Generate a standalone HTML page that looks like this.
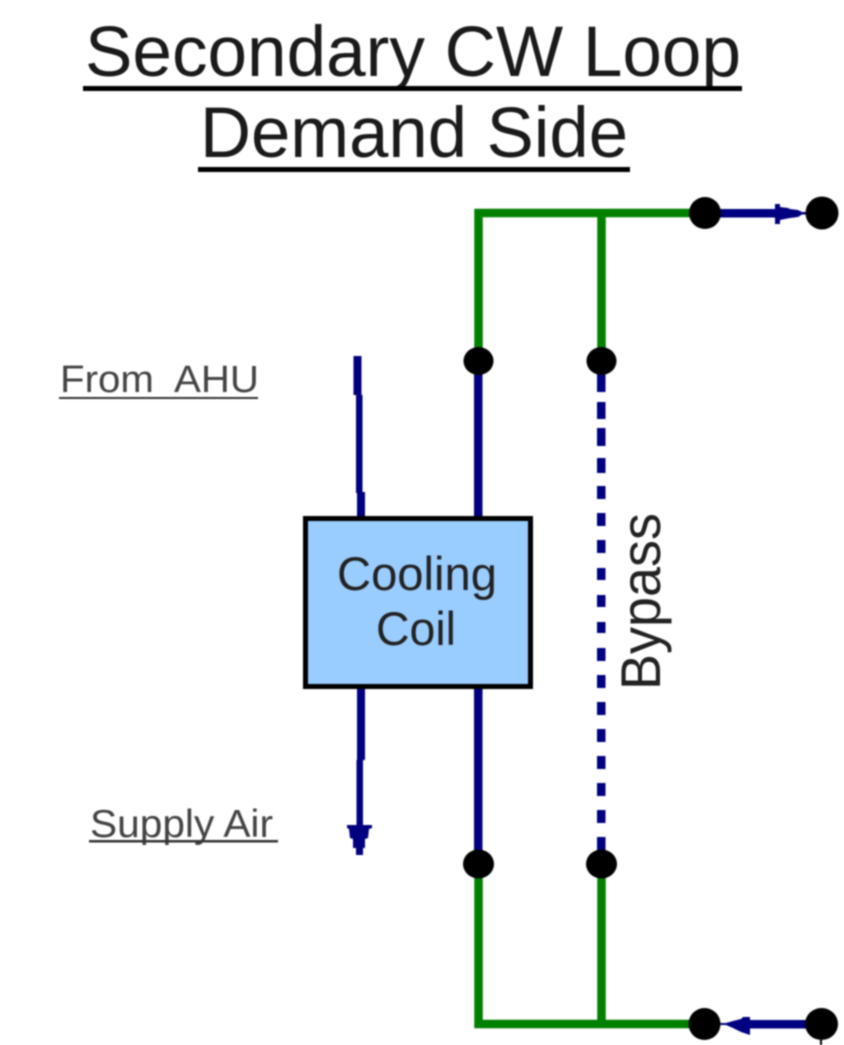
<!DOCTYPE html>
<html>
<head>
<meta charset="utf-8">
<style>
html,body{margin:0;padding:0;background:#fff;width:844px;height:1045px;overflow:hidden}
svg{display:block;filter:blur(.8px)}
text{font-family:"Liberation Sans",sans-serif}
</style>
</head>
<body>
<svg width="844" height="1045" viewBox="0 0 844 1045" xmlns="http://www.w3.org/2000/svg">
<!-- Title -->
<text x="85" y="76" font-size="71" fill="#1a1a1a" textLength="656" lengthAdjust="spacingAndGlyphs">Secondary CW Loop</text>
<rect x="83" y="86" width="659" height="5" fill="#000"/>
<text x="200" y="157" font-size="71" fill="#1a1a1a" textLength="428" lengthAdjust="spacingAndGlyphs">Demand Side</text>
<rect x="198" y="167" width="432" height="5" fill="#000"/>

<!-- Labels -->
<text x="60" y="392" font-size="38" fill="#444" textLength="199" lengthAdjust="spacingAndGlyphs">From&#160; AHU</text>
<rect x="59" y="397" width="199" height="2" fill="#333"/>
<text x="90" y="837" font-size="39" fill="#444" textLength="183" lengthAdjust="spacingAndGlyphs">Supply Air</text>
<rect x="89" y="840" width="189" height="2.5" fill="#333"/>

<!-- Green pipes -->
<path d="M478.5 361V213H705M601.5 213V361M478.5 864V1024H705M601.5 864V1024" fill="none" stroke="#008000" stroke-width="8.5"/>

<!-- Blue pipes -->
<g fill="#000080">
  <rect x="474" y="361" width="8.5" height="160"/>
  <rect x="474" y="685" width="8.5" height="180"/>
  <!-- Bypass -->
  <rect x="597" y="361" width="8.5" height="31"/>
  <rect x="597" y="402" width="8.5" height="17"/>
  <rect x="597" y="428" width="8.5" height="18"/>
  <rect x="597" y="458" width="8.5" height="15"/>
  <rect x="597" y="486" width="8.5" height="13"/>
  <rect x="597" y="513" width="8.5" height="13"/>
  <rect x="597" y="540" width="8.5" height="13"/>
  <rect x="597" y="568" width="8.5" height="12"/>
  <rect x="597" y="595" width="8.5" height="12"/>
  <rect x="597" y="622" width="8.5" height="11"/>
  <rect x="597" y="648" width="8.5" height="13"/>
  <rect x="597" y="675" width="8.5" height="13"/>
  <rect x="597" y="702" width="8.5" height="13"/>
  <rect x="597" y="729" width="8.5" height="13"/>
  <rect x="597" y="756" width="8.5" height="13"/>
  <rect x="597" y="783" width="8.5" height="13"/>
  <rect x="597" y="810" width="8.5" height="13"/>
  <rect x="597" y="837" width="8.5" height="20"/>
  <!-- Air line in -->
  <rect x="353.5" y="356" width="8" height="39"/>
  <rect x="356" y="395" width="6.5" height="98"/>
  <rect x="357" y="492" width="8" height="30"/>
  <!-- Air line out -->
  <rect x="357" y="685" width="8" height="75"/>
  <rect x="356.5" y="760" width="6.5" height="68"/>
  <polygon points="347,825 372,825 372,828 369,829 368,838 365,839 365,848 363,848 363,855 356,855 356,848 353,848 353,839 350,838 349,829 347,828"/>
  <!-- Top right arrow -->
  <rect x="715" y="209" width="62" height="8.5"/>
  <polygon points="775,204 780,204 780,207 788,208 790,209 798,210 802,212 808,212 808,214.5 802,214.5 798,217 790,218 780,220 780,224 775,224"/>
  <!-- Bottom right arrow -->
  <rect x="748" y="1020" width="62" height="8.5"/>
  <polygon points="750,1017 743,1017 741,1019 733,1021 726,1023 720,1023 720,1025 726,1025 733,1028 741,1032 750,1035"/>
</g>

<!-- Coil -->
<rect x="305.5" y="518.5" width="225" height="168" fill="#99ccff" stroke="#000" stroke-width="5"/>
<text x="337" y="590" font-size="47" fill="#222" textLength="160" lengthAdjust="spacingAndGlyphs">Cooling</text>
<text x="376" y="645" font-size="47" fill="#222" textLength="80" lengthAdjust="spacingAndGlyphs">Coil</text>

<!-- Bypass label -->
<text transform="translate(660,690) rotate(-90)" font-size="56" fill="#222" textLength="177" lengthAdjust="spacingAndGlyphs">Bypass</text>

<!-- Nodes -->
<g fill="#000">
  <ellipse cx="705" cy="213" rx="16" ry="16"/>
  <ellipse cx="822" cy="213" rx="16.5" ry="16.5"/>
  <ellipse cx="478.5" cy="361" rx="15" ry="14"/>
  <ellipse cx="601.5" cy="361" rx="15" ry="14"/>
  <ellipse cx="478.5" cy="864" rx="15.5" ry="14.5"/>
  <ellipse cx="601.5" cy="864" rx="15.5" ry="14.5"/>
  <ellipse cx="704.5" cy="1024" rx="16" ry="16"/>
  <ellipse cx="821.5" cy="1024" rx="16.5" ry="16"/>
  <rect x="820" y="1040" width="2" height="5"/>
</g>
</svg>
</body>
</html>
